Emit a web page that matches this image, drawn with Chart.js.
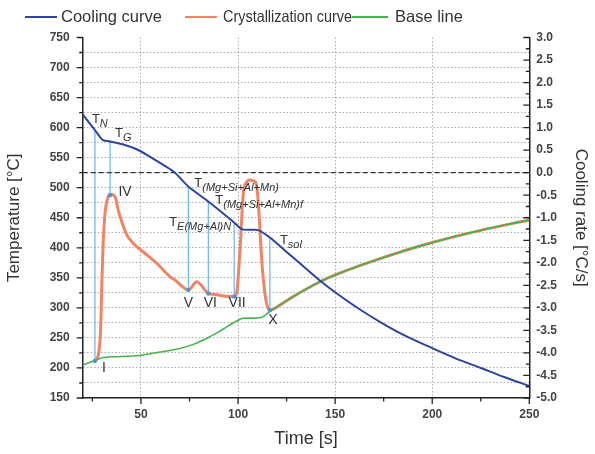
<!DOCTYPE html>
<html>
<head>
<meta charset="utf-8">
<script src="https://cdn.jsdelivr.net/npm/chart.js@4.4.1/dist/chart.umd.min.js"></script>
<style>
  html, body { margin: 0; padding: 0; background: #fff; }
  #wrap { width: 595px; height: 454px; }
</style>
</head>
<body>
<div id="wrap"><canvas id="main-chart" width="595" height="454"></canvas></div>
<script>
// ── Data ─────────────────────────────────────────────────────────────────────
// cooling curve: time [s] -> temperature [°C]
const coolTime = [20, 26.3, 29, 30.6, 34.1, 40.9, 47.8, 54.7, 61.5, 67.5, 74.4, 84.7, 98, 101.9, 106, 110.4, 116.4, 125, 133, 142, 150, 162, 175, 187, 200, 212, 225, 237, 250];
const coolTemp = [622, 596, 584, 579, 577, 572, 564, 551.5, 538, 525, 502, 477, 442, 431, 430, 429.5, 417, 393, 371, 346, 326, 299, 273, 252, 233, 216, 200, 185, 170];

// crystallization curve: time [s] -> cooling rate [°C/s]
const crystTime = [26.3, 28, 29.2, 29.9, 30.5, 31.5, 33.2, 34.5, 36.6, 38.3, 40.1, 42.7, 46.1, 51.2, 58.1, 65, 67.5, 74.4, 78.7, 84.7, 89, 93.8, 98, 99.5, 101, 102.7, 104.1, 106.1, 108, 109.6, 110.9, 112.2, 113.6, 114.9, 116.4, 121.5, 128.4, 142.2, 150, 175, 200, 225, 250];
const crystRate = [-4.18, -4.05, -3.5, -2.4, -1.6, -0.9, -0.53, -0.48, -0.53, -0.83, -1.09, -1.38, -1.57, -1.76, -2.01, -2.31, -2.38, -2.60, -2.42, -2.68, -2.71, -2.74, -2.75, -2.6, -1.72, -0.46, -0.23, -0.16, -0.18, -0.30, -0.98, -1.94, -2.60, -2.94, -3.05, -2.94, -2.75, -2.42, -2.27, -1.88, -1.55, -1.28, -1.05];

// base line: time [s] -> cooling rate [°C/s]
const baseTime = [20, 26.3, 30.6, 40, 50, 60, 70, 77, 85.5, 92, 99.3, 102.7, 111.3, 116.4, 128.4, 142.2, 150, 162, 175, 187, 200, 212, 225, 237, 250];
const baseRate = [-4.27, -4.17, -4.10, -4.08, -4.05, -3.98, -3.90, -3.81, -3.64, -3.48, -3.29, -3.23, -3.22, -3.08, -2.75, -2.42, -2.27, -2.07, -1.88, -1.71, -1.55, -1.41, -1.28, -1.16, -1.05];

// characteristic points (vertical markers)
const charTime  = [26.3, 34.1, 74.4, 84.7, 98, 116.4];
const charTemp  = [596, 577, 502, 477, 442, 417];        // top end, on cooling curve
const charRate  = [-4.18, -0.50, -2.60, -2.68, -2.75, -3.05]; // bottom end, on crystallization curve
const charRoman = ["I", "IV", "V", "VI", "VII", "X"];
const charSub   = ["N", "G", "(Mg+Si+Al+Mn)", "(Mg+Si+Al+Mn)f", "E(Mg+Al)N", "sol"];

// axis ticks
const range = (a, b, s) => Array.from({ length: Math.round((b - a) / s) + 1 }, (_, i) => +(a + i * s).toFixed(4));
const timeTicks = range(25, 250, 25);
const tempTicks = range(150, 750, 25);
const rateTicks = range(-5, 3, 0.25);

// ── Styling ──────────────────────────────────────────────────────────────────
const FONT = '"Liberation Sans", Arial, Helvetica, sans-serif';
const GRID = "rgba(120,120,120,0.6)";
const AXIS = "#222";
const TXT = "#333";

// label offsets in px (roman numerals: centre; T labels: left/baseline)
const ROMAN_OFF = [[9, 7], [15, -3], [0, 13], [2, 10], [3, 7], [3, 10]];
const T_OFF = [[-3, -7], [5, -4], [6, 0], [7, 2], [-65, 3], [10, 6]];
const LEGEND_POS = [[25, 57, 61, 104], [185, 217, 223, 129], [352, 388, 395, 68]];

const pts = (xs, ys) => xs.map((x, i) => ({ x, y: ys[i] }));

const annotate = {
  id: "annotate",
  beforeDatasetsDraw(chart) {
    const { ctx, scales: { x, y, y2 } } = chart;
    ctx.save();
    ctx.strokeStyle = "#6db2ea";
    ctx.lineWidth = 1.2;
    charTime.forEach((t, i) => {
      const px = x.getPixelForValue(t);
      ctx.beginPath();
      ctx.moveTo(px, y.getPixelForValue(charTemp[i]));
      ctx.lineTo(px, y2.getPixelForValue(charRate[i]));
      ctx.stroke();
    });
    ctx.restore();
  },
  afterDatasetsDraw(chart) {
    const { ctx, scales: { x, y, y2 } } = chart;
    ctx.save();
    charTime.forEach((t, i) => {
      const px = x.getPixelForValue(t);
      const pb = y2.getPixelForValue(charRate[i]);
      const pt = y.getPixelForValue(charTemp[i]);
      // dot
      ctx.fillStyle = "#4f95dc";
      ctx.beginPath();
      ctx.arc(px, pb, 2.2, 0, Math.PI * 2);
      ctx.fill();
      // roman numeral
      ctx.fillStyle = TXT;
      ctx.font = "14px " + FONT;
      ctx.textAlign = "center";
      ctx.textBaseline = "middle";
      ctx.fillText(charRoman[i], px + ROMAN_OFF[i][0], pb + ROMAN_OFF[i][1]);
      // T label with subscript
      const lx = px + T_OFF[i][0], ly = pt + T_OFF[i][1];
      ctx.textAlign = "left";
      ctx.textBaseline = "alphabetic";
      ctx.font = "13px " + FONT;
      ctx.fillText("T", lx, ly);
      const w = ctx.measureText("T").width;
      ctx.font = "italic 11px " + FONT;
      ctx.fillText(charSub[i], lx + w, ly + 4);
    });
    ctx.restore();
  },
  afterDraw(chart) {
    const { ctx, chartArea: a, scales: { x, y, y2 } } = chart;
    ctx.save();
    ctx.strokeStyle = AXIS;
    ctx.lineWidth = 1.3;
    ctx.beginPath();
    timeTicks.forEach(v => {
      const p = x.getPixelForValue(v), len = v % 50 === 0 ? 6 : 3.5;
      ctx.moveTo(p, a.bottom); ctx.lineTo(p, a.bottom + len);
    });
    tempTicks.forEach(v => {
      const p = y.getPixelForValue(v), len = v % 50 === 0 ? 6 : 3.5;
      ctx.moveTo(a.left, p); ctx.lineTo(a.left - len, p);
    });
    rateTicks.forEach(v => {
      const p = y2.getPixelForValue(v), len = Math.round(v * 4) % 2 === 0 ? 6 : 3.5;
      ctx.moveTo(a.right, p); ctx.lineTo(a.right - len, p);
    });
    ctx.stroke();

    // legend
    ctx.font = "16.5px " + FONT;
    ctx.textAlign = "left";
    ctx.textBaseline = "middle";
    LEGEND_POS.forEach(([x0, x1, tx, tw], i) => {
      const ds = chart.data.datasets[i];
      ctx.strokeStyle = ds.borderColor;
      ctx.lineWidth = 2;
      ctx.beginPath(); ctx.moveTo(x0, 17); ctx.lineTo(x1, 17); ctx.stroke();
      ctx.fillStyle = TXT;
      ctx.fillText(ds.label, tx, 17.5, tw);
    });
    ctx.restore();
  }
};

let chart = null;

function renderChart() {
  const ctx = document.getElementById("main-chart");
  const cfg = {
    type: "line",
    data: {
      datasets: [
        { label: "Cooling curve", data: pts(coolTime, coolTemp), yAxisID: "y",
          borderColor: "#2b45a0", borderWidth: 2, pointRadius: 0, tension: 0.3, order: 0 },
        { label: "Crystallization curve", data: pts(crystTime, crystRate), yAxisID: "y2",
          borderColor: "#f08566", borderWidth: 3, pointRadius: 0, cubicInterpolationMode: "monotone", order: 2 },
        { label: "Base line", data: pts(baseTime, baseRate), yAxisID: "y2",
          borderColor: "#45b24a", borderWidth: 1.6, pointRadius: 0, cubicInterpolationMode: "monotone", order: 1 },
        { label: "zero", data: pts([20, 250], [0, 0]), yAxisID: "y2",
          borderColor: "#333", borderWidth: 1.2, borderDash: [5, 3], pointRadius: 0, order: 3 },
      ],
    },
    options: {
      responsive: false,
      animation: false,
      devicePixelRatio: 1,
      layout: { padding: { top: 37.5 } },
      plugins: { legend: { display: false }, tooltip: { enabled: false } },
      scales: {
        x: {
          type: "linear", min: 20, max: 250,
          afterBuildTicks: s => { s.ticks = timeTicks.map(value => ({ value })); },
          afterFit: s => { s.height = 56; },
          ticks: { autoSkip: false, maxRotation: 0, padding: 9, color: "#444",
                   font: { size: 12, weight: "bold", family: FONT },
                   callback: v => (v % 50 === 0 ? v : "") },
          grid: { drawTicks: false,
                  color: c => (c.tick && c.tick.value % 50 === 0 && c.tick.value < 250 ? GRID : "transparent") },
          border: { color: AXIS, width: 1.5, dash: [1.5, 2] },
          title: { display: true, text: "Time [s]", color: TXT, font: { size: 18, family: FONT } },
        },
        y: {
          type: "linear", position: "left", min: 150, max: 750,
          afterBuildTicks: s => { s.ticks = tempTicks.map(value => ({ value })); },
          afterFit: s => { s.width = 82.7; },
          ticks: { autoSkip: false, padding: 13, color: "#444",
                   font: { size: 12, weight: "bold", family: FONT },
                   callback: v => (v % 50 === 0 ? v : "") },
          grid: { drawTicks: false,
                  color: c => (c.tick && c.tick.value > 150 && c.tick.value < 750 ? GRID : "transparent") },
          border: { color: AXIS, width: 1.5, dash: [1.5, 2] },
          title: { display: true, text: "Temperature [°C]", color: TXT, font: { size: 17, family: FONT } },
        },
        y2: {
          type: "linear", position: "right", min: -5, max: 3,
          afterBuildTicks: s => { s.ticks = rateTicks.map(value => ({ value })); },
          afterFit: s => { s.width = 65.7; },
          ticks: { autoSkip: false, padding: 7, color: "#444",
                   font: { size: 12, weight: "bold", family: FONT },
                   callback: v => (Math.round(v * 4) % 2 === 0 ? v.toFixed(1) : "") },
          grid: { drawTicks: false, drawOnChartArea: false },
          border: { color: AXIS, width: 1.5 },
          title: { display: true, text: "Cooling rate [°C/s]", color: TXT, font: { size: 17, family: FONT } },
        },
      },
    },
    plugins: [annotate],
  };
  if (chart) chart.destroy();
  chart = new Chart(ctx, cfg);
}

document.addEventListener("DOMContentLoaded", renderChart);
</script>
</body>
</html>
